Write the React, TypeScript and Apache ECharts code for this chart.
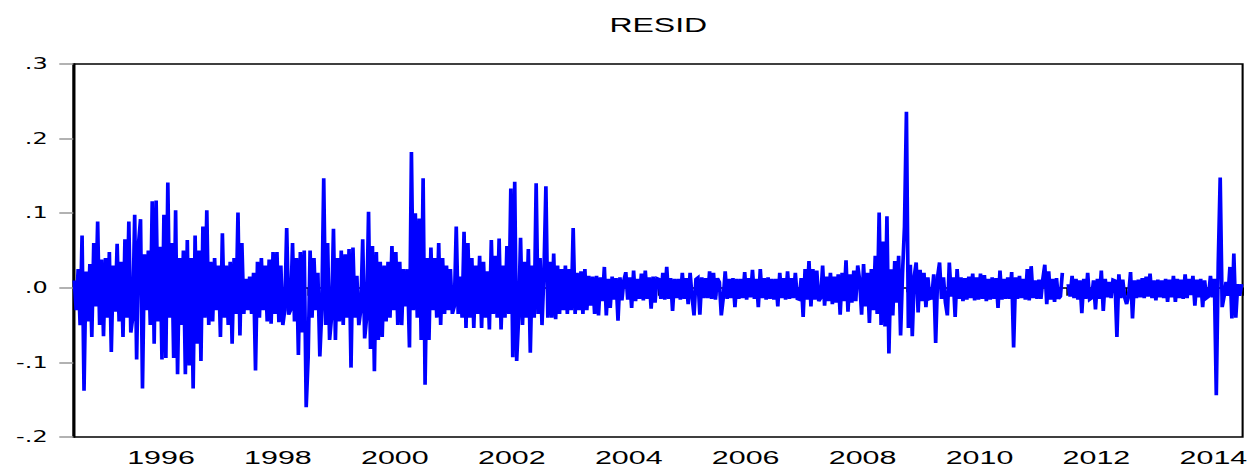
import React, { useEffect, useRef } from "react";
import * as echarts from "echarts";

// Category labels (years) for the time axis
const years: number[] = [1995, 1996, 1997, 1998, 1999, 2000, 2001, 2002, 2003, 2004, 2005, 2006, 2007, 2008, 2009, 2010, 2011, 2012, 2013, 2014];

const resid1995 = [0.010, -0.030, 0.025, -0.050, 0.070, -0.138, 0.022, -0.045, 0.032, -0.066, 0.060, -0.025, 0.089, -0.050, 0.038, -0.065, 0.040, -0.040, 0.048, -0.086, 0.030, -0.032, 0.059, -0.045, 0.035, -0.066, 0.065, -0.040, 0.089, -0.060];
const resid1996 = [-0.040, 0.098, -0.096, 0.060, 0.092, -0.135, 0.045, -0.030, 0.050, -0.050, 0.116, -0.075, 0.117, -0.045, 0.055, -0.096, 0.098, -0.094, 0.141, -0.040, 0.060, -0.094, 0.104, -0.116, 0.040, -0.050, 0.050, -0.116, 0.064, -0.104];
const resid1997 = [0.040, -0.135, 0.070, -0.075, 0.050, -0.098, 0.082, -0.040, 0.104, -0.050, 0.035, -0.045, 0.040, -0.030, 0.030, -0.066, 0.073, -0.040, 0.030, -0.050, 0.035, -0.075, 0.040, -0.035, 0.101, -0.064, 0.060, -0.035, 0.012, -0.030];
const resid1998 = [0.015, -0.035, 0.020, -0.111, 0.035, -0.040, 0.040, -0.030, 0.030, -0.045, 0.038, -0.048, 0.048, -0.035, 0.048, -0.046, 0.030, -0.050, -0.030, 0.080, -0.036, -0.030, 0.060, -0.045, 0.040, -0.090, 0.048, -0.060, 0.050, -0.160];
const resid1999 = [-0.094, 0.050, -0.040, 0.040, -0.030, 0.020, -0.092, -0.030, 0.147, -0.050, 0.060, -0.070, -0.040, 0.079, -0.070, 0.040, -0.045, 0.050, -0.050, 0.045, -0.040, 0.052, -0.107, 0.054, -0.040, 0.016, -0.050, -0.030, 0.065, -0.068];
const resid2000 = [-0.040, 0.102, -0.082, 0.056, -0.112, 0.048, -0.070, 0.035, -0.066, 0.030, -0.045, 0.035, -0.040, 0.056, -0.030, 0.048, -0.050, 0.035, -0.050, 0.025, -0.025, 0.025, -0.080, 0.182, -0.030, 0.100, -0.040, 0.093, -0.070, 0.147];
const resid2001 = [-0.130, 0.040, -0.070, 0.054, -0.030, 0.040, -0.040, 0.060, -0.050, 0.040, -0.035, 0.030, -0.030, 0.025, -0.035, -0.025, 0.082, -0.035, 0.015, -0.040, 0.075, -0.054, 0.060, -0.040, 0.040, -0.054, 0.030, -0.035, 0.043, -0.054];
const resid2002 = [0.035, -0.040, 0.022, -0.056, 0.064, -0.035, 0.043, -0.040, 0.066, -0.056, 0.030, -0.040, 0.056, -0.035, 0.133, -0.093, 0.142, -0.098, -0.040, 0.067, -0.050, 0.035, -0.040, 0.052, -0.087, 0.030, -0.040, 0.140, -0.035, 0.040];
const resid2003 = [-0.050, 0.020, 0.136, -0.040, 0.035, -0.040, 0.046, -0.042, 0.030, -0.035, 0.025, -0.030, 0.030, -0.035, 0.025, -0.030, 0.080, -0.035, 0.020, -0.030, 0.022, -0.035, 0.025, -0.030, 0.016, -0.024, 0.015, -0.035, 0.016, -0.037];
const resid2004 = [0.014, -0.018, 0.028, -0.037, 0.012, -0.027, 0.015, -0.016, 0.013, -0.044, 0.014, -0.017, 0.010, 0.021, -0.016, 0.014, -0.027, 0.023, -0.018, 0.012, -0.015, 0.019, -0.017, 0.023, -0.015, 0.014, -0.028, 0.015, -0.020, 0.013];
const resid2005 = [0.012, -0.015, 0.020, -0.016, 0.028, -0.015, 0.013, -0.031, 0.012, -0.014, 0.012, -0.016, 0.020, -0.015, 0.013, -0.022, 0.020, -0.012, -0.037, 0.012, 0.014, -0.036, 0.014, -0.014, 0.013, -0.014, 0.022, -0.015, 0.020, -0.016];
const resid2006 = [0.013, 0.008, -0.037, -0.014, 0.022, -0.015, 0.012, -0.014, 0.013, -0.026, 0.012, -0.015, 0.012, -0.014, 0.021, -0.016, 0.013, -0.013, 0.024, -0.015, 0.012, -0.026, 0.025, -0.014, 0.013, -0.016, 0.014, -0.015, 0.012, -0.016];
const resid2007 = [0.012, -0.025, 0.020, -0.014, 0.013, -0.016, 0.022, -0.015, 0.013, -0.014, 0.020, -0.015, -0.016, 0.013, -0.039, 0.025, -0.016, 0.036, -0.025, 0.025, -0.016, 0.023, -0.018, -0.014, 0.030, -0.024, 0.015, -0.018, 0.020, -0.022];
const resid2008 = [0.015, -0.020, 0.018, -0.036, 0.020, -0.018, 0.037, -0.032, 0.018, -0.020, 0.023, -0.018, 0.030, 0.010, -0.036, 0.032, -0.025, 0.020, -0.047, 0.025, -0.030, 0.043, -0.035, 0.101, -0.050, 0.062, -0.052, 0.096, -0.088, 0.025];
const resid2009 = [-0.037, 0.036, -0.020, 0.043, -0.064, 0.020, 0.082, 0.236, -0.054, 0.031, -0.065, 0.015, 0.034, -0.033, 0.024, -0.018, 0.020, -0.026, 0.014, -0.015, -0.014, 0.018, -0.074, 0.015, 0.034, -0.015, 0.014, -0.020, -0.037, 0.034];
const resid2010 = [-0.012, 0.014, -0.039, 0.025, -0.015, 0.014, -0.018, 0.013, -0.016, 0.015, -0.014, 0.019, -0.017, 0.014, -0.016, 0.019, -0.015, 0.017, -0.018, 0.012, -0.016, 0.014, -0.015, 0.013, -0.027, 0.023, -0.016, 0.012, -0.015, 0.014];
const resid2011 = [-0.015, 0.021, -0.080, 0.014, -0.015, 0.016, -0.014, 0.012, -0.016, 0.025, -0.017, 0.029, -0.014, 0.010, -0.015, 0.011, -0.015, 0.012, 0.031, -0.022, 0.022, -0.016, 0.012, -0.019, 0.013, -0.015, -0.012, 0.020, null, null];
const resid2012 = [0.005, -0.012, 0.016, -0.014, 0.012, -0.016, 0.010, -0.034, 0.012, -0.015, 0.020, -0.016, -0.014, 0.010, -0.029, 0.012, -0.015, 0.023, -0.031, 0.012, -0.013, 0.008, -0.014, 0.011, 0.010, -0.066, 0.018, -0.014, 0.011, -0.013];
const resid2013 = [-0.022, -0.010, 0.021, -0.041, 0.010, -0.014, 0.011, -0.013, 0.013, -0.014, 0.015, -0.012, 0.019, -0.014, 0.010, -0.017, 0.011, -0.013, 0.010, -0.014, 0.012, -0.019, 0.011, -0.013, 0.016, -0.019, 0.012, -0.014, 0.011, -0.015];
const resid2014 = [0.018, -0.014, 0.012, -0.010, 0.016, -0.024, 0.011, -0.013, 0.012, -0.026, 0.010, -0.014, -0.012, 0.016, -0.013, 0.012, -0.144, 0.033, 0.148, -0.026, -0.012, 0.008, -0.011, 0.028, -0.041, 0.046, -0.040, 0.005, -0.011, 0.005];

// Y axis tick values
const yTicks: number[] = [-0.2, -0.1, 0.0, 0.1, 0.2, 0.3];

const residByYear: Array<[number, Array<number | null>]> = [
  [1995, resid1995], [1996, resid1996], [1997, resid1997], [1998, resid1998], [1999, resid1999],
  [2000, resid2000], [2001, resid2001], [2002, resid2002], [2003, resid2003], [2004, resid2004],
  [2005, resid2005], [2006, resid2006], [2007, resid2007], [2008, resid2008], [2009, resid2009],
  [2010, resid2010], [2011, resid2011], [2012, resid2012], [2013, resid2013], [2014, resid2014],
];

const W = 782;
const H = 467;
const K = 1252 / W;

function buildData(): Array<[number, number | string]> {
  const out: Array<[number, number | string]> = [];
  residByYear.forEach(([yr, vals]) => {
    vals.forEach((v, j) => {
      out.push([yr + (j + 0.5) / vals.length, v === null ? "-" : v]);
    });
  });
  return out;
}

function fmtY(v: number): string {
  const n = Math.round(v * 10);
  if (n === 0) return ".0";
  return (n < 0 ? "-" : "") + "." + Math.abs(n);
}

export default function App() {
  const ref = useRef<HTMLDivElement>(null);

  useEffect(() => {
    if (!ref.current) return;
    const chart = echarts.init(ref.current, null, { renderer: "svg" });
    const plotLeft = 73.3 / K;
    const plotRight = 1243.3 / K;
    chart.setOption({
      animation: false,
      backgroundColor: "#ffffff",
      title: {
        text: "RESID",
        left: (plotLeft + plotRight) / 2 - 5,
        top: 10,
        textAlign: "center",
        textVerticalAlign: "top",
        textStyle: {
          fontFamily: "Liberation Sans, Arial, sans-serif",
          fontSize: 20,
          fontWeight: "normal",
          color: "#000000",
        },
      },
      grid: {
        left: plotLeft,
        right: W - plotRight,
        top: 64,
        bottom: 28,
        show: true,
        borderColor: "#000000",
        borderWidth: 1.3,
      },
      xAxis: [
        {
          type: "value",
          min: 1995,
          max: 2015,
          interval: 1,
          position: "bottom",
          axisLine: { show: true, lineStyle: { color: "#000000", width: 1.5 } },
          axisTick: { show: true, length: 8, lineStyle: { color: "#000000", width: 1 } },
          minorTick: { show: true, splitNumber: 4, length: 4.5, lineStyle: { color: "#000000", width: 1 } },
          axisLabel: { show: false },
          splitLine: { show: false },
          minorSplitLine: { show: false },
        },
        {
          type: "category",
          data: years.map(String),
          position: "bottom",
          boundaryGap: true,
          axisLine: { show: false },
          axisTick: { show: false },
          splitLine: { show: false },
          axisLabel: {
            interval: (_i: number, v: string) => Number(v) % 2 === 0,
            margin: 11,
            fontFamily: "Liberation Sans, Arial, sans-serif",
            fontSize: 19,
            color: "#000000",
          },
        },
      ],
      yAxis: {
        type: "value",
        min: yTicks[0],
        max: yTicks[yTicks.length - 1],
        interval: 0.1,
        axisLine: { show: true, lineStyle: { color: "#000000", width: 1.3 } },
        axisTick: { show: true, length: 8.75, lineStyle: { color: "#999999", width: 1.5 } },
        axisLabel: {
          formatter: fmtY,
          margin: 16,
          fontFamily: "DejaVu Sans, sans-serif",
          fontSize: 15,
          color: "#000000",
        },
        splitLine: { show: false },
      },
      series: [
        {
          type: "line",
          xAxisIndex: 0,
          yAxisIndex: 0,
          data: buildData(),
          showSymbol: false,
          symbol: "none",
          connectNulls: false,
          silent: true,
          lineStyle: { color: "#0000ff", width: 2.3, join: "miter", miterLimit: 3 },
        },
      ],
    });
    return () => chart.dispose();
  }, []);

  return (
    <div
      style={{
        position: "fixed",
        left: 0,
        top: 0,
        width: 1252,
        height: H,
        overflow: "hidden",
        background: "#ffffff",
      }}
    >
      <div
        ref={ref}
        style={{
          width: W,
          height: H,
          transform: `scaleX(${K})`,
          transformOrigin: "0 0",
        }}
      />
    </div>
  );
}
